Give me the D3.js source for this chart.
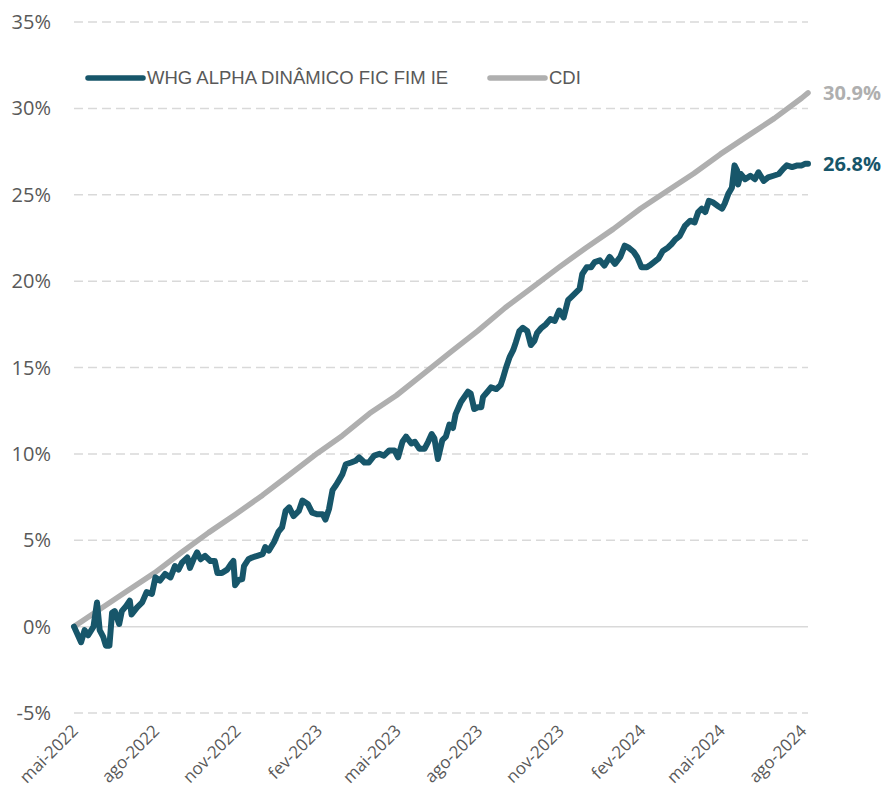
<!DOCTYPE html>
<html lang="pt">
<head>
<meta charset="UTF-8">
<title>WHG Alpha Dinâmico vs CDI</title>
<script src="https://d3js.org/d3.v7.min.js"></script>
<style>
    body { margin: 0; background: #fff; }
    svg { display: block; }
</style>
</head>
<body>
<script>
// series names
const seriesNames = ["WHG ALPHA DINÂMICO FIC FIM IE", "CDI"];
const seriesColors = ["#17566a", "#afafaf"];

// fund cumulative return (%)
const fundDates = [
    "2022-05-01","2022-05-09","2022-05-13","2022-05-17","2022-05-23","2022-05-27","2022-05-30",
    "2022-06-03","2022-06-06","2022-06-10","2022-06-13","2022-06-16","2022-06-21","2022-06-24","2022-06-29",
    "2022-07-03","2022-07-05","2022-07-11","2022-07-17","2022-07-22","2022-07-28",
    "2022-08-01","2022-08-06","2022-08-12","2022-08-18","2022-08-23","2022-08-27","2022-08-31",
    "2022-09-06","2022-09-09","2022-09-13","2022-09-17","2022-09-21","2022-09-26",
    "2022-10-02","2022-10-07","2022-10-10","2022-10-15","2022-10-21","2022-10-25","2022-10-28","2022-10-30",
    "2022-11-03","2022-11-07","2022-11-09","2022-11-14","2022-11-18","2022-11-24","2022-11-30",
    "2022-12-03","2022-12-07","2022-12-13","2022-12-18","2022-12-22","2022-12-26","2022-12-30",
    "2023-01-04","2023-01-10","2023-01-14","2023-01-20","2023-01-25","2023-01-31",
    "2023-02-06","2023-02-09","2023-02-13","2023-02-17","2023-02-21","2023-02-24","2023-02-28",
    "2023-03-04","2023-03-10","2023-03-15","2023-03-19","2023-03-25","2023-03-30",
    "2023-04-05","2023-04-11","2023-04-16","2023-04-22","2023-04-28",
    "2023-05-02","2023-05-07","2023-05-11","2023-05-17","2023-05-21","2023-05-26",
    "2023-06-01","2023-06-05","2023-06-09","2023-06-12","2023-06-16","2023-06-21","2023-06-25","2023-06-29",
    "2023-07-03","2023-07-06","2023-07-12","2023-07-20","2023-07-23","2023-07-27","2023-07-31",
    "2023-08-04","2023-08-06","2023-08-11","2023-08-15","2023-08-21","2023-08-26","2023-08-28",
    "2023-09-01","2023-09-05","2023-09-09","2023-09-12","2023-09-16","2023-09-20","2023-09-25","2023-09-29",
    "2023-10-03","2023-10-06","2023-10-11","2023-10-16","2023-10-21","2023-10-26","2023-10-31",
    "2023-11-05","2023-11-10","2023-11-15","2023-11-19","2023-11-23","2023-11-26",
    "2023-12-01","2023-12-06","2023-12-10","2023-12-16","2023-12-21","2023-12-27",
    "2024-01-02","2024-01-08","2024-01-13","2024-01-17","2024-01-23","2024-01-27",
    "2024-02-01","2024-02-07","2024-02-10","2024-02-15","2024-02-20","2024-02-25",
    "2024-03-02","2024-03-06","2024-03-10","2024-03-15","2024-03-21","2024-03-27",
    "2024-04-01","2024-04-05","2024-04-09","2024-04-13","2024-04-17","2024-04-22","2024-04-27",
    "2024-05-02","2024-05-05","2024-05-09","2024-05-13","2024-05-16","2024-05-19","2024-05-20","2024-05-23","2024-05-28",
    "2024-06-03","2024-06-08","2024-06-12","2024-06-18","2024-06-23","2024-06-29",
    "2024-07-05","2024-07-10","2024-07-14","2024-07-20","2024-07-26","2024-07-31",
    "2024-08-04","2024-08-07"
];
const fundValues = [
    0.0,-0.9,-0.2,-0.5,0.0,1.4,-0.2,
    -0.6,-1.1,-1.1,0.8,0.9,0.15,0.9,1.2,
    1.5,0.7,1.1,1.4,2.0,1.9,
    2.85,2.66,3.05,2.85,3.5,3.3,3.7,
    4.0,3.4,3.9,4.3,3.9,4.1,
    3.8,3.8,3.1,3.1,3.3,3.6,3.8,2.4,
    2.7,2.75,3.5,3.9,4.0,4.1,4.2,
    4.6,4.4,4.9,5.5,5.75,6.7,6.9,
    6.4,6.7,7.3,7.1,6.6,6.5,
    6.5,6.2,6.8,7.9,8.2,8.45,8.8,
    9.4,9.5,9.6,9.8,9.5,9.5,
    9.9,10.0,9.9,10.2,10.2,
    9.8,10.7,11.0,10.6,10.7,10.3,
    10.3,10.7,11.15,10.9,9.7,10.8,11.0,11.7,
    11.5,12.3,13.0,13.6,13.5,12.6,12.7,
    12.7,13.3,13.6,13.85,13.75,14.0,14.3,
    15.0,15.6,16.0,16.45,17.1,17.3,17.1,16.3,
    16.55,17.0,17.3,17.5,17.8,17.7,18.3,
    17.9,18.9,19.15,19.35,19.55,20.4,
    20.8,20.8,21.1,21.2,20.9,21.4,
    21.0,21.4,22.05,21.95,21.7,21.4,
    20.8,20.8,20.9,21.1,21.3,21.75,
    21.95,22.15,22.4,22.6,23.2,23.5,
    23.4,24.0,24.2,24.0,24.65,24.55,24.35,
    24.2,24.5,25.05,25.4,26.7,26.4,25.6,26.2,25.9,
    26.1,25.9,26.3,25.8,26.0,26.1,
    26.2,26.5,26.7,26.6,26.7,26.7,
    26.8,26.8
];

// CDI cumulative return (%), month by month
const cdiDates = [
    "2022-05-01","2022-05-31","2022-06-30","2022-07-31","2022-08-31","2022-09-30","2022-10-31",
    "2022-11-30","2022-12-31","2023-01-31","2023-02-28","2023-03-31","2023-04-30","2023-05-31",
    "2023-06-30","2023-07-31","2023-08-31","2023-09-30","2023-10-31","2023-11-30","2023-12-31",
    "2024-01-31","2024-02-29","2024-03-31","2024-04-30","2024-05-31","2024-06-30","2024-07-31","2024-08-07"
];
const cdiValues = [
    0.0,1.03,2.06,3.11,4.32,5.44,6.52,
    7.61,8.82,10.04,11.05,12.35,13.38,14.65,
    15.88,17.12,18.46,19.61,20.81,21.92,23.01,
    24.20,25.19,26.23,27.35,28.41,29.42,30.60,30.90
];

const yTicks = [-5, 0, 5, 10, 15, 20, 25, 30, 35];
const xTickDates = ["2022-05-01","2022-08-01","2022-11-01","2023-02-01","2023-05-01",
    "2023-08-01","2023-11-01","2024-02-01","2024-05-01","2024-08-01"];
const monthNames = ["jan","fev","mar","abr","mai","jun","jul","ago","set","out","nov","dez"];

const width = 886, height = 791;
const margin = {top: 22, right: 78, bottom: 78, left: 74};

const parse = d3.timeParse("%Y-%m-%d");
const fund = fundDates.map((d, i) => ({date: parse(d), value: fundValues[i]}));
const cdi = cdiDates.map((d, i) => ({date: parse(d), value: cdiValues[i]}));

const svg = d3.select("body").append("svg")
    .attr("width", width)
    .attr("height", height);

const x = d3.scaleTime()
    .domain([parse("2022-05-01"), parse("2024-08-07")])
    .range([margin.left, width - margin.right]);

const y = d3.scaleLinear()
    .domain([-5, 35])
    .range([height - margin.bottom, margin.top]);

// grid lines
svg.append("g")
    .selectAll("line")
    .data(yTicks)
    .join("line")
    .attr("x1", margin.left)
    .attr("x2", width - margin.right)
    .attr("y1", d => y(d))
    .attr("y2", d => y(d))
    .attr("stroke", "#d9d9d9")
    .attr("stroke-width", 1.5)
    .attr("stroke-dasharray", d => d === 0 ? null : "9,5");

// y axis labels
svg.append("g")
    .selectAll("text")
    .data(yTicks)
    .join("text")
    .attr("x", 51)
    .attr("y", d => y(d))
    .attr("dy", "0.35em")
    .attr("text-anchor", "end")
    .attr("font-family", "'Open Sans', sans-serif")
    .attr("font-size", 20)
    .attr("fill", "#595959")
    .text(d => d + "%");

// x axis labels, rotated
svg.append("g")
    .selectAll("text")
    .data(xTickDates.map(parse))
    .join("text")
    .attr("transform", d => `translate(${x(d) + 5},${height - margin.bottom + 19}) rotate(-45)`)
    .attr("text-anchor", "end")
    .attr("font-family", "'Open Sans', sans-serif")
    .attr("font-size", 17)
    .attr("fill", "#595959")
    .text(d => monthNames[d.getMonth()] + "-" + d.getFullYear());

const line = d3.line()
    .x(d => x(d.date))
    .y(d => y(d.value));

svg.append("path")
    .datum(cdi)
    .attr("fill", "none")
    .attr("stroke", seriesColors[1])
    .attr("stroke-width", 5.5)
    .attr("stroke-linecap", "round")
    .attr("stroke-linejoin", "round")
    .attr("d", line);

svg.append("path")
    .datum(fund)
    .attr("fill", "none")
    .attr("stroke", seriesColors[0])
    .attr("stroke-width", 6)
    .attr("stroke-linecap", "round")
    .attr("stroke-linejoin", "round")
    .attr("d", line);

// end labels
const ends = [cdi[cdi.length - 1], fund[fund.length - 1]];
svg.append("g")
    .selectAll("text")
    .data(ends)
    .join("text")
    .attr("x", d => x(d.date) + 15)
    .attr("y", d => y(d.value))
    .attr("dy", "0.35em")
    .attr("font-family", "'Open Sans', sans-serif")
    .attr("font-weight", "bold")
    .attr("font-size", 20)
    .attr("fill", (d, i) => i === 0 ? seriesColors[1] : seriesColors[0])
    .text(d => d.value.toFixed(1) + "%");

// legend
const legendX = [88, 490];
const legend = svg.append("g")
    .selectAll("g")
    .data(seriesNames)
    .join("g")
    .attr("transform", (d, i) => `translate(${legendX[i]},78)`);

legend.append("line")
    .attr("x1", 0).attr("x2", 55)
    .attr("stroke", (d, i) => seriesColors[i])
    .attr("stroke-width", 5.5)
    .attr("stroke-linecap", "round");

legend.append("text")
    .attr("x", 59)
    .attr("dy", "0.35em")
    .attr("font-family", "'Liberation Sans', Arial, sans-serif")
    .attr("font-size", 18.5)
    .attr("fill", "#595959")
    .text(d => d);
</script>
</body>
</html>
